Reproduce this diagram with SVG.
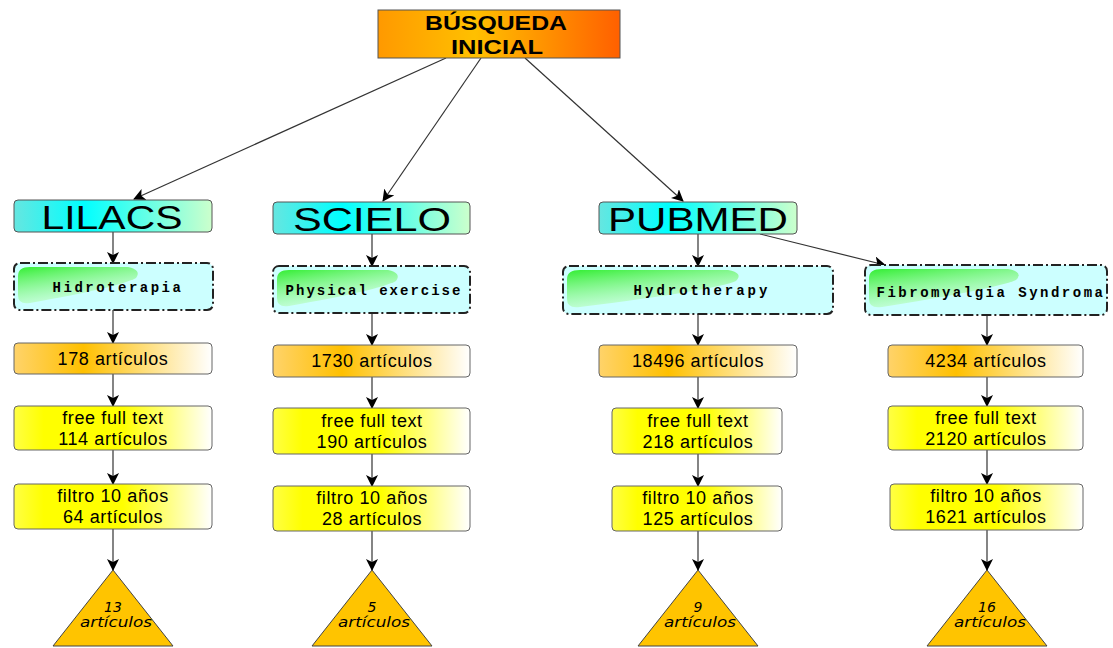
<svg xmlns="http://www.w3.org/2000/svg" width="1113" height="648" viewBox="0 0 1113 648">
<style>
.src{stroke:#555;stroke-width:1;fill:url(#gCyan)}
.dash{fill:#ccffff;stroke:#222;stroke-width:2;stroke-dasharray:10 3 2 3}
.cnt{stroke:#666;stroke-width:1;fill:url(#gOrange)}
.yel{stroke:#666;stroke-width:1;fill:url(#gYellow)}
.tri{fill:#ffc400;stroke:#444;stroke-width:1}
.big{font-family:"Liberation Sans",Arial,sans-serif;font-size:33px;text-anchor:middle;fill:#000}
.mid{font-family:"Liberation Sans",Arial,sans-serif;font-size:18px;letter-spacing:0.6px;text-anchor:middle;fill:#000}
.mono{font-family:"Liberation Mono","Courier New",monospace;font-size:14px;font-weight:bold;letter-spacing:2.5px;text-anchor:middle;fill:#000}
.it{font-family:"DejaVu Sans",sans-serif;font-size:14px;font-style:italic;text-anchor:middle;fill:#000}
.con line{stroke:#333;stroke-width:1.2;marker-end:url(#arr)}
</style>
<defs>
<linearGradient id="gTop" x1="0" y1="0" x2="1" y2="0">
<stop offset="0" stop-color="#ff9900"/><stop offset="0.4" stop-color="#ffc000"/><stop offset="1" stop-color="#ff6000"/>
</linearGradient>
<linearGradient id="gCyan" x1="0" y1="0" x2="1" y2="0">
<stop offset="0" stop-color="#66e6e0"/><stop offset="0.35" stop-color="#00ffff"/><stop offset="1" stop-color="#ccffcc"/>
</linearGradient>
<linearGradient id="gOrange" x1="0" y1="0" x2="1" y2="0">
<stop offset="0" stop-color="#ffd36a"/><stop offset="0.35" stop-color="#ffc000"/><stop offset="1" stop-color="#ffffff"/>
</linearGradient>
<linearGradient id="gYellow" x1="0" y1="0" x2="1" y2="0">
<stop offset="0" stop-color="#ffff44"/><stop offset="0.15" stop-color="#ffff00"/><stop offset="0.55" stop-color="#ffff00"/><stop offset="1" stop-color="#ffffff"/>
</linearGradient>
<linearGradient id="gGreen" x1="0" y1="0" x2="0.5" y2="1">
<stop offset="0" stop-color="#33ee33"/><stop offset="1" stop-color="#ccffcc" stop-opacity="0.5"/>
</linearGradient>
<marker id="arr" viewBox="0 0 12 12" refX="11" refY="6" markerWidth="12" markerHeight="12" markerUnits="userSpaceOnUse" orient="auto">
<path d="M0,0 L12,6 L0,12 L3,6 Z" fill="#000"/>
</marker>
</defs>

<g class="con" id="connectors">
<line x1="446" y1="58" x2="134" y2="199"/>
<line x1="481" y1="58" x2="383" y2="201"/>
<line x1="525" y1="58" x2="683" y2="201"/>
<line x1="760" y1="234" x2="885" y2="265"/>
<line x1="113" y1="232" x2="113" y2="263"/>
<line x1="113" y1="310" x2="113" y2="343"/>
<line x1="113" y1="374" x2="113" y2="406"/>
<line x1="113" y1="450" x2="113" y2="484"/>
<line x1="113" y1="529" x2="113" y2="570"/>
<line x1="372" y1="234" x2="372" y2="266"/>
<line x1="372" y1="313" x2="372" y2="345"/>
<line x1="372" y1="377" x2="372" y2="408"/>
<line x1="372" y1="454" x2="372" y2="486"/>
<line x1="372" y1="531" x2="372" y2="570"/>
<line x1="698" y1="234" x2="698" y2="266"/>
<line x1="698" y1="314" x2="698" y2="345"/>
<line x1="698" y1="377" x2="698" y2="408"/>
<line x1="698" y1="454" x2="698" y2="486"/>
<line x1="698" y1="531" x2="698" y2="570"/>
<line x1="987" y1="316" x2="987" y2="345"/>
<line x1="987" y1="377" x2="987" y2="406"/>
<line x1="987" y1="450" x2="987" y2="484"/>
<line x1="987" y1="530" x2="987" y2="570"/>
</g>

<g id="busqueda">
<rect x="378" y="10" width="242" height="48" fill="url(#gTop)" stroke="#555"/>
<text x="496" y="30" font-family="Liberation Sans,Arial,sans-serif" font-size="21" font-weight="bold" text-anchor="middle" textLength="142" lengthAdjust="spacingAndGlyphs">BÚSQUEDA</text>
<text x="497" y="54" font-family="Liberation Sans,Arial,sans-serif" font-size="21" font-weight="bold" text-anchor="middle" textLength="92" lengthAdjust="spacingAndGlyphs">INICIAL</text>
</g>

<g id="lilacs"><rect class="src" x="14" y="200" width="198" height="32" rx="4"/><text class="big" x="112" y="229" textLength="141" lengthAdjust="spacingAndGlyphs">LILACS</text></g>
<g id="scielo"><rect class="src" x="273" y="202" width="197" height="32" rx="4"/><text class="big" x="372" y="231" textLength="158" lengthAdjust="spacingAndGlyphs">SCIELO</text></g>
<g id="pubmed"><rect class="src" x="599" y="202" width="198" height="32" rx="4"/><text class="big" x="698" y="231" textLength="180" lengthAdjust="spacingAndGlyphs">PUBMED</text></g>

<g id="hidroterapia"><rect class="dash" x="14" y="263" width="199" height="47" rx="6"/><path d="M18,276 Q18,267 30,267 L128,267 Q142,270 136,278 Q120,287 30,303 Q18,305 18,295 Z" fill="url(#gGreen)"/><text class="mono" x="118" y="292">Hidroterapia</text></g>
<g id="physical"><rect class="dash" x="273" y="266" width="197" height="47" rx="6"/><path d="M277,279 Q277,270 289,270 L388,270 Q402,273 396,281 Q380,290 289,306 Q277,308 277,298 Z" fill="url(#gGreen)"/><text class="mono" x="374" y="295" style="letter-spacing:2px">Physical exercise</text></g>
<g id="hydrotherapy"><rect class="dash" x="563" y="266" width="270" height="48" rx="6"/><path d="M567,279 Q567,270 580,270 L728,270 Q744,273 736,281 Q715,290 580,307 Q567,309 567,299 Z" fill="url(#gGreen)"/><text class="mono" x="702" y="295" style="letter-spacing:3px">Hydrotherapy</text></g>
<g id="fibro"><rect class="dash" x="865" y="265" width="242" height="50" rx="6"/><path d="M869,278 Q869,269 882,269 L1008,269 Q1024,272 1016,280 Q995,289 882,307 Q869,309 869,299 Z" fill="url(#gGreen)"/><text class="mono" x="991" y="297">Fibromyalgia Syndroma</text></g>

<g id="c178"><rect class="cnt" x="14" y="343" width="198" height="31" rx="4"/><text class="mid" x="113" y="365">178 artículos</text></g>
<g id="c1730"><rect class="cnt" x="273" y="345" width="197" height="32" rx="4"/><text class="mid" x="372" y="367">1730 artículos</text></g>
<g id="c18496"><rect class="cnt" x="599" y="345" width="198" height="32" rx="4"/><text class="mid" x="698" y="367">18496 artículos</text></g>
<g id="c4234"><rect class="cnt" x="888" y="345" width="195" height="32" rx="4"/><text class="mid" x="986" y="367">4234 artículos</text></g>

<g id="f114"><rect class="yel" x="14" y="406" width="198" height="44" rx="4"/><text class="mid" x="113" y="424">free full text</text><text class="mid" x="113" y="445">114 artículos</text></g>
<g id="f190"><rect class="yel" x="273" y="408" width="197" height="46" rx="4"/><text class="mid" x="372" y="427">free full text</text><text class="mid" x="372" y="448">190 artículos</text></g>
<g id="f218"><rect class="yel" x="612" y="408" width="170" height="46" rx="4"/><text class="mid" x="698" y="427">free full text</text><text class="mid" x="698" y="448">218 artículos</text></g>
<g id="f2120"><rect class="yel" x="888" y="406" width="195" height="44" rx="4"/><text class="mid" x="986" y="424">free full text</text><text class="mid" x="986" y="445">2120 artículos</text></g>

<g id="y64"><rect class="yel" x="14" y="484" width="198" height="45" rx="4"/><text class="mid" x="113" y="502">filtro 10 años</text><text class="mid" x="113" y="523">64 artículos</text></g>
<g id="y28"><rect class="yel" x="273" y="486" width="197" height="45" rx="4"/><text class="mid" x="372" y="504">filtro 10 años</text><text class="mid" x="372" y="525">28 artículos</text></g>
<g id="y125"><rect class="yel" x="612" y="486" width="170" height="45" rx="4"/><text class="mid" x="698" y="504">filtro 10 años</text><text class="mid" x="698" y="525">125 artículos</text></g>
<g id="y1621"><rect class="yel" x="890" y="484" width="193" height="46" rx="4"/><text class="mid" x="986" y="502">filtro 10 años</text><text class="mid" x="986" y="523">1621 artículos</text></g>

<g id="t13"><polygon class="tri" points="113,570 173,646 53,646"/><text class="it" x="113" y="612">13</text><text class="it" x="116" y="627" textLength="72" lengthAdjust="spacingAndGlyphs">artículos</text></g>
<g id="t5"><polygon class="tri" points="372,570 432,646 312,646"/><text class="it" x="372" y="612">5</text><text class="it" x="374" y="627" textLength="72" lengthAdjust="spacingAndGlyphs">artículos</text></g>
<g id="t9"><polygon class="tri" points="698,570 758,646 638,646"/><text class="it" x="698" y="612">9</text><text class="it" x="700" y="627" textLength="72" lengthAdjust="spacingAndGlyphs">artículos</text></g>
<g id="t16"><polygon class="tri" points="987,570 1047,646 927,646"/><text class="it" x="987" y="612">16</text><text class="it" x="990" y="627" textLength="72" lengthAdjust="spacingAndGlyphs">artículos</text></g>
</svg>
